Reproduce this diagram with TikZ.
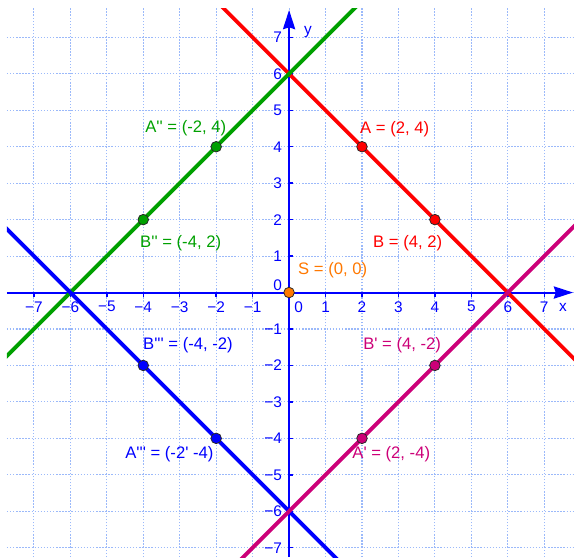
\documentclass[tikz,border=0pt]{standalone}
\usepackage{fontspec}
\setmainfont{Liberation Sans}
\newfontfamily\lab{Liberation Sans}
\usetikzlibrary{arrows.meta}
\definecolor{gridc}{RGB}{155,185,250}
\definecolor{axc}{RGB}{0,0,255}
\definecolor{redc}{RGB}{255,0,0}
\definecolor{greenc}{RGB}{0,160,0}
\definecolor{bluec}{RGB}{0,0,255}
\definecolor{magc}{RGB}{204,0,120}
\definecolor{orc}{RGB}{255,120,0}
\begin{document}
\begin{tikzpicture}[
  gridline/.style={gridc, line width=0.85pt, dash pattern=on 1.1pt off 1.3pt},
  axis/.style={axc, line width=1.6pt},
  tickmark/.style={axc, line width=1.1pt},
  geoline/.style={line width=3pt},
  pt/.style={circle, draw=black!85, line width=0.6pt, inner sep=0pt, minimum size=0.29cm},
  ptlabel/.style={font=\lab\fontsize{13}{15}\selectfont, anchor=west, inner sep=0pt},
  ticklab/.style={font=\lab\fontsize{12}{14}\selectfont, text=axc, inner sep=0pt},
]
\useasboundingbox (-7.93,-7.257) rectangle (7.816,8.025);
% grid
\foreach \i in {-7,...,7} {
  \draw[gridline] (\i,-7.257) -- (\i,7.8);
  \draw[gridline] (-7.74,\i) -- (7.816,\i);
}
% axes
\coordinate (xs) at (-7.74,0);
\coordinate (xe) at (7.79,0);
\coordinate (ys) at (0,-7.257);
\coordinate (ye) at (0,7.75);
\draw[axis, -{Stealth[length=15pt,width=9.5pt,inset=1.5pt]}] (xs) -- (xe);
\draw[axis, -{Stealth[length=15pt,width=9.5pt,inset=1.5pt]}] (ys) -- (ye);
\foreach \i in {1,...,7} {
  \draw[tickmark] (\i,0) -- (\i,-0.11);
  \draw[tickmark] (-\i,0) -- (-\i,-0.11);
  \draw[tickmark] (0,\i) -- (0.11,\i);
  \draw[tickmark] (0,-\i) -- (0.11,-\i);
  \node[ticklab] (xp\i) at (\i,-0.39) {\i};
  \node[ticklab] (xn\i) at (-\i,-0.39) {−\i};
  \node[ticklab, anchor=east] (yp\i) at (-0.19,\i) {\i};
  \node[ticklab, anchor=east] (yn\i) at (-0.19,-\i) {−\i};
}
\node[ticklab] (x0) at (0.26,-0.39) {0};
\node[ticklab, anchor=east] (y0) at (-0.19,0.19) {0};
\node[ticklab] (xname) at (7.51,-0.41) {x};
\node[ticklab] (yname) at (0.52,7.15) {y};
% lines
\coordinate (r1) at (-2.5,8.5);  \coordinate (r2) at (14.5,-8.5);
\coordinate (g1) at (-14.5,-8.5); \coordinate (g2) at (2.5,8.5);
\coordinate (b1) at (-14.5,8.5);  \coordinate (b2) at (2.5,-8.5);
\coordinate (m1) at (-2.5,-8.5);  \coordinate (m2) at (14.5,8.5);
\begin{scope}
\clip (-7.74,-7.257) rectangle (7.816,7.8);
\draw[geoline, redc] (r1) -- (r2);
\draw[geoline, greenc] (g1) -- (g2);
\draw[geoline, bluec] (b1) -- (b2);
\draw[geoline, magc] (m1) -- (m2);
\end{scope}
% points
\node[pt, fill=redc] (A) at (2,4) {};
\node[pt, fill=redc] (B) at (4,2) {};
\node[pt, fill=greenc] (A2) at (-2,4) {};
\node[pt, fill=greenc] (B2) at (-4,2) {};
\node[pt, fill=bluec] (A3) at (-2,-4) {};
\node[pt, fill=bluec] (B3) at (-4,-2) {};
\node[pt, fill=magc] (A1) at (2,-4) {};
\node[pt, fill=magc] (B1) at (4,-2) {};
\node[pt, fill=orc] (S) at (0,0) {};
% labels
\node[ptlabel, text=redc] (lA) at (1.945,4.49) {A = (2, 4)};
\node[ptlabel, text=redc] (lB) at (2.30,1.36) {B = (4, 2)};
\node[ptlabel, text=greenc] (lA2) at (-3.95,4.50) {A'' = (-2, 4)};
\node[ptlabel, text=greenc] (lB2) at (-4.09,1.36) {B'' = (-4, 2)};
\node[ptlabel, text=orc] (lS) at (0.244,0.62) {S = (0, 0)};
\node[ptlabel, text=bluec] (lB3) at (-4.01,-1.44) {B''' = (-4, -2)};
\node[ptlabel, text=magc] (lB1) at (2.03,-1.44) {B' = (4, -2)};
\node[ptlabel, text=bluec] (lA3) at (-4.50,-4.44) {A''' = (-2' -4)};
\node[ptlabel, text=magc] (lA1) at (1.73,-4.44) {A' = (2, -4)};
\end{tikzpicture}
\end{document}
